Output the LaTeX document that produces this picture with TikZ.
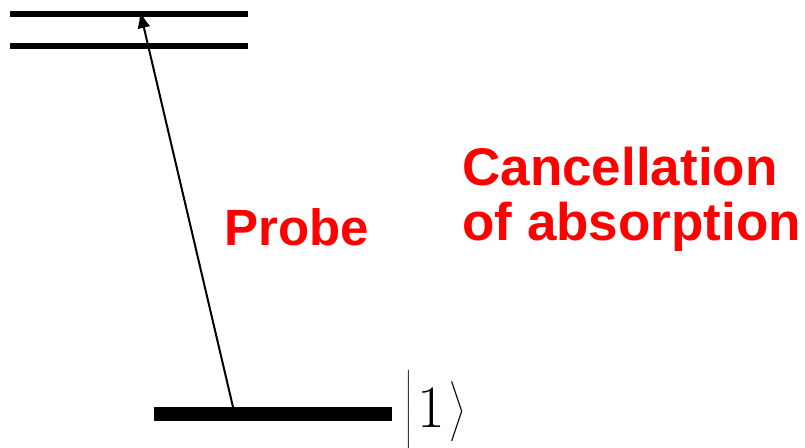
\documentclass[tikz,border=0pt]{standalone}
\usepackage{fix-cm}
\usepackage{fontspec}
\setmainfont{Liberation Sans}
\usetikzlibrary{arrows.meta}
\definecolor{labred}{RGB}{255,0,0}
\begin{document}
\begin{tikzpicture}[x=0.5pt,y=-0.5pt,
  level/.style={line width=#1, line cap=butt},
  redlabel/.style={text=labred, font=\bfseries\fontsize{25.5pt}{27.5pt}\selectfont, inner sep=0pt, anchor=base west, align=left},
  probearrow/.style={line width=1pt, -{Latex[length=8.5pt,width=6.5pt]}}]
\useasboundingbox (0,0) rectangle (805,447);
% levels
\draw[level=3pt] (10,14) -- (248,14);
\draw[level=3pt] (10,46) -- (248,46);
\draw[level=7pt] (154,414) -- (392,414);
% arrow ends
\coordinate (lo) at (233,407);
\coordinate (hi) at (140,11);
\draw[probearrow] (lo) -- (hi);
% labels
\node[redlabel] (probe) at (224,245) {Probe};
\node[redlabel, font=\bfseries\fontsize{26.5pt}{27.5pt}\selectfont] (cancel) at (462,185) {Cancellation};
\node[redlabel, font=\bfseries\fontsize{26.5pt}{27.5pt}\selectfont] (absorp) at (462,240) {of absorption};
\node[inner sep=0pt, anchor=base west, font=\fontsize{30pt}{36pt}\selectfont] (ket) at (405,427)
  {\delimitershortfall=0pt$\left|\rule[-12pt]{0pt}{39pt}\mskip1.5mu 1\mskip1.5mu\right\rangle$};
\end{tikzpicture}
\end{document}
